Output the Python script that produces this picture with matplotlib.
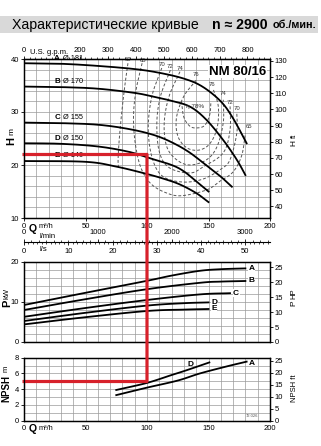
import numpy as np
import matplotlib
matplotlib.use("Agg")
import matplotlib.pyplot as plt
from matplotlib.patches import ConnectionPatch, Rectangle
from matplotlib.ticker import MultipleLocator

plt.rcParams['font.family'] = ['Liberation Sans', 'DejaVu Sans']

# ---------------- data ----------------
curve_names = ['A', 'B', 'C', 'D', 'E']
curve_diams = ['181', '170', '155', '150', '140']

# H (m) vs Q (m3/h)
hA_q = [0, 30, 60, 90, 110, 130, 145, 160, 170, 181]
hA_h = [39.2, 39.1, 38.7, 38.1, 37.4, 36.3, 34.8, 32.0, 28.8, 24.1]
hB_q = [0, 30, 60, 90, 105, 120, 135, 148, 162, 173, 180]
hB_h = [34.8, 34.7, 34.4, 33.6, 32.9, 32.1, 31.0, 28.6, 24.7, 21.0, 18.1]
hC_q = [0, 30, 60, 85, 105, 120, 135, 151, 160, 169]
hC_h = [28.0, 27.9, 27.6, 26.8, 25.7, 24.3, 22.3, 19.4, 17.8, 15.9]
hD_q = [0, 30, 60, 85, 102, 120, 130, 140, 150]
hD_h = [24.1, 24.0, 23.5, 22.5, 21.3, 20.0, 18.8, 16.9, 15.0]
hE_q = [0, 50, 75, 100, 115, 127, 140, 150]
hE_h = [20.75, 20.6, 19.7, 18.3, 17.3, 16.3, 14.7, 13.0]

# iso-efficiency lines (%)
eff_levels = [60, 65, 70, 72, 74, 76, 78]
e60_q = [84.5, 82, 79.5, 77.5, 76.5, 77]
e60_h = [39.2, 35, 30, 25, 21, 19.2]
e65_q = [96, 91, 89, 90.5, 95, 103, 115, 128, 148.5, 159, 170, 177, 180]
e65_h = [39.2, 34, 29, 24, 19.5, 16.5, 14.8, 14.2, 15.3, 16.9, 18.7, 21.8, 26]
e70_q = [112, 104, 101, 104, 112, 128, 145, 160, 167.5, 173, 173]
e70_h = [38.3, 33, 27, 21.5, 18, 16.8, 17.3, 19.2, 21, 26, 30]
e72_q = [119, 111, 108, 110, 118, 135, 146, 162, 167.5, 167.5]
e72_h = [37.9, 33, 28, 22.5, 19.5, 18.5, 19.7, 22.3, 26.6, 31.3]
e74_q = [126.8, 118, 114, 116, 124, 135, 148.5, 157, 162, 162]
e74_h = [37.6, 33, 28, 23.5, 21, 20, 21, 23.5, 28, 32.3]
e76_q = [140, 130, 124, 125, 132, 142, 151, 157, 158, 154]
e76_h = [36, 33, 29, 25.5, 23.3, 22.8, 24, 27, 31, 34.2]
e78_q = [128, 130, 135, 141, 147, 151, 152]
e78_h = [32, 29, 27.3, 27, 27.5, 29.5, 32]
eff_label_text = ['60', '65', '70', '72', '74', '76', '76', '74', '72', '70', '65']
eff_label_q = [84.8, 97, 112, 118.7, 126.8, 140, 152.6, 162, 167.5, 173, 183]
eff_label_h = [39.5, 39.3, 38.4, 38.1, 37.8, 36.6, 34.7, 33.0, 31.4, 30.1, 26.8]

# power (kW) vs Q
pA_q = [0, 50, 100, 120, 143, 160, 180]
pA = [9.25, 12.3, 15.3, 16.6, 17.8, 18.2, 18.4]
pB_q = [0, 50, 100, 143, 160, 180]
pB = [8.0, 10.7, 13.2, 14.8, 15.1, 15.25]
pC_q = [0, 50, 100, 143, 167.5]
pC = [6.3, 8.5, 10.5, 11.9, 12.2]
pD_q = [0, 50, 100, 130, 150]
pD = [5.25, 7.3, 9.1, 9.7, 9.9]
pE_q = [0, 50, 100, 130, 150]
pE = [4.4, 6.2, 7.75, 8.1, 8.25]

# NPSH (m) vs Q
nA_q = [75, 100, 125, 143, 165, 181]
nA = [3.25, 4.2, 5.1, 6.0, 6.9, 7.5]
nD_q = [75, 100, 120, 132, 150.7]
nD = [3.9, 4.8, 5.8, 6.4, 7.4]

# duty point (red)
duty_q = 100
duty_h = 22
duty_npsh = 5

q_ticks = [0, 50, 100, 150, 200]
gpm_ticks = [0, 200, 300, 400, 500, 600, 700, 800]
lmin_ticks = [0, 1000, 2000, 3000]
ls_ticks = [0, 10, 20, 30, 40, 50]

# ---------------- helpers ----------------
def smooth(xs, ys, n=16):
    pts = np.column_stack([xs, ys]).astype(float)
    P = np.vstack([2 * pts[0] - pts[1], pts, 2 * pts[-1] - pts[-2]])
    t = np.linspace(0, 1, n, endpoint=False)[:, None]
    out = []
    for i in range(1, len(P) - 2):
        p0, p1, p2, p3 = P[i - 1], P[i], P[i + 1], P[i + 2]
        seg = 0.5 * ((2 * p1) + (-p0 + p2) * t + (2 * p0 - 5 * p1 + 4 * p2 - p3) * t ** 2
                     + (-p0 + 3 * p1 - 3 * p2 + p3) * t ** 3)
        out.append(seg)
    out.append(pts[-1:])
    o = np.vstack(out)
    return o[:, 0], o[:, 1]

W, H = 321, 446
def fx(px):
    return px / W
def fy(py):
    return 1 - py / H

GRID = '#9a9a9a'
RED = '#d7212b'
TS = 5.5

fig = plt.figure(figsize=(W / 100, H / 100), dpi=100)
fig.patch.set_facecolor('white')

# title band
fig.patches.append(Rectangle((0, fy(33)), fx(318), 17 / H, transform=fig.transFigure,
                             facecolor='#d9d9d9', edgecolor='none', zorder=0))
fig.text(fx(12), fy(25), 'Характеристические кривые', fontsize=10.2, va='center', ha='left')
fig.text(fx(212), fy(25), 'n ≈ 2900', fontsize=10.2, va='center', ha='left', fontweight='bold')
fig.text(fx(273), fy(25.5), 'об./мин.', fontsize=7.8, va='center', ha='left', fontweight='bold')

L, Wd = fx(24), 246 / W

def style(ax):
    for s in ax.spines.values():
        s.set_linewidth(0.9)
    ax.tick_params(which='major', labelsize=TS, length=2, width=0.6, pad=1.5)
    ax.tick_params(which='minor', length=0)
    ax.set_xlim(0, 200)
    ax.xaxis.set_minor_locator(MultipleLocator(10))
    ax.grid(which='both', color=GRID, linewidth=0.5)
    ax.set_axisbelow(True)

# ---------------- H chart ----------------
ax1 = fig.add_axes([L, fy(218), Wd, (218 - 59) / H])
style(ax1)
ax1.set_ylim(10, 40)
ax1.set_yticks([10, 20, 30, 40])
ax1.yaxis.set_minor_locator(MultipleLocator(2))
ax1.set_xticks(q_ticks)

hcurves = [(hA_q, hA_h), (hB_q, hB_h), (hC_q, hC_h), (hD_q, hD_h), (hE_q, hE_h)]
for (q, h), nm, d in zip(hcurves, curve_names, curve_diams):
    xs, ys = smooth(q, h)
    ax1.plot(xs, ys, color='black', lw=1.3, zorder=3)
    ax1.text(24.5, h[0] + 0.3, nm, fontsize=5.8, fontweight='bold', va='bottom', ha='left', zorder=3)
    ax1.text(32, h[0] + 0.3, 'Ø ' + d, fontsize=5.3, va='bottom', ha='left', zorder=3)

effs = [(e60_q, e60_h), (e65_q, e65_h), (e70_q, e70_h), (e72_q, e72_h),
        (e74_q, e74_h), (e76_q, e76_h), (e78_q, e78_h)]
for q, h in effs:
    xs, ys = smooth(q, h)
    ax1.plot(xs, ys, color='#555555', lw=0.7, ls=(0, (3, 2)), zorder=2)
for t, q, h in zip(eff_label_text, eff_label_q, eff_label_h):
    ax1.text(q, h, t, fontsize=4.3, ha='center', va='bottom', color='#333333', zorder=3)
ax1.text(139, 30.6, 'η 78%', fontsize=4.6, ha='center', va='bottom', color='#333333', zorder=3)
ax1.text(197, 37.6, 'NM 80/16', fontsize=9.5, fontweight='bold', ha='right', va='center', zorder=4,
         bbox=dict(facecolor='white', edgecolor='none', pad=0.5))

ax1r = ax1.twinx()
ax1r.set_ylim(10 / 0.3048, 40 / 0.3048)
ax1r.set_yticks(np.arange(40, 131, 10))
ax1r.tick_params(labelsize=TS, length=2, width=0.6, pad=1.5)
for s in ax1r.spines.values():
    s.set_linewidth(0.9)

gpm = ax1.secondary_xaxis('top', functions=(lambda q: q * 4.4029, lambda g: g / 4.4029))
gpm.set_xticks(gpm_ticks)
gpm.xaxis.set_minor_locator(MultipleLocator(20))
gpm.tick_params(which='major', labelsize=TS, length=2.5, width=0.6, pad=1)
gpm.tick_params(which='minor', length=1.3, width=0.5)
fig.text(fx(30), fy(52), 'U.S. g.p.m.', fontsize=5.5, va='center', ha='left')

fig.text(fx(11.5), fy(141), 'H', fontsize=8, fontweight='bold', rotation=90, va='center', ha='center')
fig.text(fx(11.5), fy(131), 'm', fontsize=6, rotation=90, va='center', ha='center')
fig.text(fx(294), fy(143), 'H', fontsize=6, rotation=90, va='center', ha='center')
fig.text(fx(294), fy(136), 'ft', fontsize=5.5, rotation=90, va='center', ha='center')
fig.text(fx(33), fy(229), 'Q', fontsize=7.5, fontweight='bold', va='center', ha='center')
fig.text(fx(39), fy(226), 'm³/h', fontsize=5.3, va='center', ha='left')

# ---------------- flow scales ----------------
axm = fig.add_axes([L, fy(242), Wd, 0.0001])
axm.patch.set_visible(False)
axm.set_xlim(0, 200 * 1000 / 60)
for s in ['left', 'right', 'top']:
    axm.spines[s].set_visible(False)
axm.spines['bottom'].set_linewidth(0.8)
axm.set_yticks([])
axm.xaxis.set_ticks_position('top')
axm.xaxis.set_label_position('top')
axm.set_xticks(lmin_ticks)
axm.xaxis.set_minor_locator(MultipleLocator(100))
axm.tick_params(axis='x', which='major', labelsize=TS, length=2.5, width=0.6, pad=1.5,
                top=True, bottom=False, labeltop=True, labelbottom=False)
axm.tick_params(axis='x', which='minor', length=1.3, width=0.5, top=True, bottom=False)
fig.text(fx(40), fy(236), 'l/min', fontsize=5.5, va='center', ha='left')

axs = fig.add_axes([L, fy(242), Wd, 0.0001])
axs.patch.set_visible(False)
axs.set_xlim(0, 200 / 3.6)
for s in ['left', 'right', 'top', 'bottom']:
    axs.spines[s].set_visible(False)
axs.set_yticks([])
axs.set_xticks(ls_ticks)
axs.xaxis.set_minor_locator(MultipleLocator(1))
axs.tick_params(axis='x', which='major', labelsize=TS, length=2.5, width=0.6, pad=2)
axs.tick_params(axis='x', which='minor', length=1.3, width=0.5)
fig.text(fx(40), fy(250), 'l/s', fontsize=5.5, va='center', ha='left')

# ---------------- power chart ----------------
ax2 = fig.add_axes([L, fy(342), Wd, 80 / H])
style(ax2)
ax2.set_ylim(0, 20)
ax2.set_yticks([0, 10, 20])
ax2.yaxis.set_minor_locator(MultipleLocator(2))
ax2.set_xticks(q_ticks)
ax2.tick_params(axis='x', labelbottom=False, length=0)
pcurves = [(pA_q, pA), (pB_q, pB), (pC_q, pC), (pD_q, pD), (pE_q, pE)]
for (q, p), nm in zip(pcurves, curve_names):
    xs, ys = smooth(q, p)
    ax2.plot(xs, ys, color='black', lw=1.3, zorder=3)
    ax2.text(q[-1] + 2.5, p[-1], nm, fontsize=6, fontweight='bold', va='center', ha='left',
             zorder=4, bbox=dict(facecolor='white', edgecolor='none', pad=0.3))
ax2r = ax2.twinx()
ax2r.set_ylim(0, 20 / 0.7457)
ax2r.set_yticks(np.arange(0, 26, 5))
ax2r.tick_params(labelsize=TS, length=2, width=0.6, pad=1.5)
for s in ax2r.spines.values():
    s.set_linewidth(0.9)
fig.text(fx(7), fy(303), 'P', fontsize=8, fontweight='bold', rotation=90, va='center', ha='center')
fig.text(fx(7), fy(293), 'kW', fontsize=5.5, rotation=90, va='center', ha='center')
fig.text(fx(294), fy(303), 'P', fontsize=6, rotation=90, va='center', ha='center')
fig.text(fx(294), fy(294), 'HP', fontsize=5.5, rotation=90, va='center', ha='center')

# ---------------- NPSH chart ----------------
ax3 = fig.add_axes([L, fy(420.7), Wd, 63 / H])
style(ax3)
ax3.set_ylim(0, 8)
ax3.set_yticks([0, 2, 4, 6, 8])
ax3.yaxis.set_minor_locator(MultipleLocator(1))
ax3.set_xticks(q_ticks)
ax3.tick_params(axis='x', length=0, pad=3)
for q, n in [(nA_q, nA), (nD_q, nD)]:
    xs, ys = smooth(q, n)
    ax3.plot(xs, ys, color='black', lw=1.3, zorder=3)
ax3.text(nA_q[-1] + 2, nA[-1] - 0.2, 'A', fontsize=6, fontweight='bold', va='center', ha='left', zorder=4)
ax3.text(135, 7.2, 'D', fontsize=6, fontweight='bold', va='center', ha='center', zorder=4)
ax3.text(185, 0.6, '72.026', fontsize=3, color='#555555', ha='center', va='center')
ax3r = ax3.twinx()
ax3r.set_ylim(0, 8 / 0.3048)
ax3r.set_yticks(np.arange(0, 26, 5))
ax3r.tick_params(labelsize=TS, length=2, width=0.6, pad=1.5)
for s in ax3r.spines.values():
    s.set_linewidth(0.9)
fig.text(fx(6.5), fy(389), 'NPSH', fontsize=7, fontweight='bold', rotation=90, va='center', ha='center')
fig.text(fx(6.5), fy(369), 'm', fontsize=5.5, rotation=90, va='center', ha='center')
fig.text(fx(294), fy(388), 'NPSH ft', fontsize=5.5, rotation=90, va='center', ha='center')
fig.text(fx(33), fy(429), 'Q', fontsize=7.5, fontweight='bold', va='center', ha='center')
fig.text(fx(39), fy(429), 'm³/h', fontsize=5.3, va='center', ha='left')

# ---------------- duty point (red) ----------------
ax1.plot([-1.8, duty_q], [duty_h, duty_h], color=RED, lw=2.3, clip_on=False, zorder=6,
         solid_capstyle='butt')
ax3.plot([-2.0, duty_q], [duty_npsh, duty_npsh], color=RED, lw=2.3, clip_on=False, zorder=6,
         solid_capstyle='butt')
con = ConnectionPatch(xyA=(duty_q, duty_h), coordsA=ax1.transData,
                      xyB=(duty_q, duty_npsh), coordsB=ax3.transData,
                      color=RED, lw=2.3, zorder=10)
fig.add_artist(con)

fig.savefig('out.png', dpi=100)
